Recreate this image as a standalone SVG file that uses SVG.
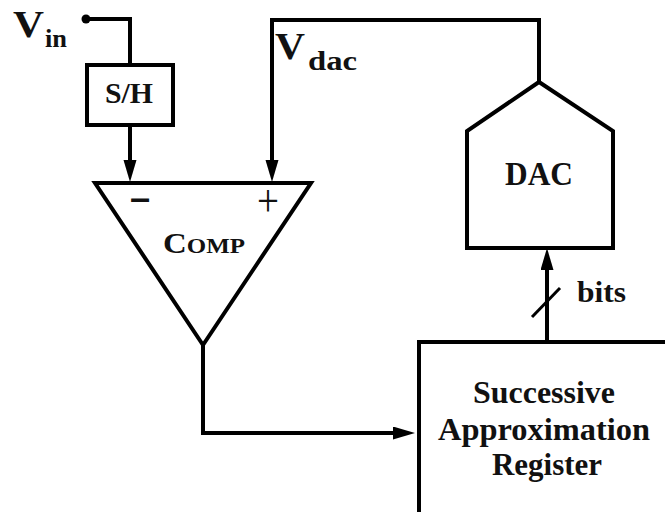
<svg xmlns="http://www.w3.org/2000/svg" width="665" height="512" viewBox="0 0 665 512">
<style>
.ln{fill:none;stroke:#000;stroke-width:4;stroke-linejoin:miter}
.sh{fill:#fff;stroke:#000;stroke-width:4}
.t{font-family:"Liberation Serif","Times New Roman",serif;font-weight:bold;fill:#111}
.s{font-family:"Liberation Serif","Times New Roman",serif;fill:#111}
</style>
<defs>
<marker id="ah" markerUnits="userSpaceOnUse" markerWidth="24" markerHeight="14" refX="12" refY="6.5" orient="auto">
<path d="M0,0 L22,6.5 L0,13 z" fill="#000"/>
</marker>
</defs>
<rect width="665" height="512" fill="#fff"/>
<g id="connectors">
<path class="ln" d="M86,19 H130 V65"/>
<path class="ln" d="M130,125 V172" marker-end="url(#ah)"/>
<path class="ln" d="M539,82 V20 H272 V172" marker-end="url(#ah)"/>
<path class="ln" d="M203,345 V433 H405" marker-end="url(#ah)"/>
<path class="ln" d="M547,342 V258" marker-end="url(#ah)"/>
<line class="ln" x1="532" y1="317" x2="560" y2="288" style="stroke-width:3"/>
<circle cx="86" cy="19" r="4.5" fill="#000"/>
</g>
<g id="vin">
<text class="t" x="13" y="37" font-size="37" textLength="31" lengthAdjust="spacingAndGlyphs">V</text>
<text class="t" x="45" y="47" font-size="26" textLength="22" lengthAdjust="spacingAndGlyphs">in</text>
</g>
<g id="vdac">
<text class="t" x="275" y="59" font-size="37" textLength="30" lengthAdjust="spacingAndGlyphs">V</text>
<text class="t" x="308" y="70" font-size="27" textLength="49" lengthAdjust="spacingAndGlyphs">dac</text>
</g>
<g id="sh">
<rect class="sh" x="87" y="65" width="86" height="60"/>
<text class="t" x="129" y="103" font-size="30" text-anchor="middle" textLength="48" lengthAdjust="spacingAndGlyphs">S/H</text>
</g>
<g id="comp">
<path class="sh" d="M95,183 H311 L203,345 Z"/>
<text class="s" x="140" y="216" font-size="48" font-weight="bold" text-anchor="middle" textLength="22" lengthAdjust="spacingAndGlyphs">−</text>
<text class="s" x="268" y="216" font-size="46" text-anchor="middle" textLength="22" lengthAdjust="spacingAndGlyphs">+</text>
<text class="t" x="163" y="253" textLength="82" lengthAdjust="spacingAndGlyphs"><tspan font-size="29">C</tspan><tspan font-size="22">OMP</tspan></text>
</g>
<g id="dac">
<path class="sh" d="M539,82 L613,131 V248 H467 V131 Z"/>
<text class="t" x="539" y="185" font-size="33" text-anchor="middle" textLength="68" lengthAdjust="spacingAndGlyphs">DAC</text>
</g>
<g id="bits">
<text class="t" x="577" y="302" font-size="30" textLength="49" lengthAdjust="spacingAndGlyphs">bits</text>
</g>
<g id="sar">
<rect class="sh" x="419" y="342" width="260" height="200"/>
<text class="t" x="544" y="403" font-size="31" text-anchor="middle" textLength="142" lengthAdjust="spacingAndGlyphs">Successive</text>
<text class="t" x="544" y="440" font-size="31" text-anchor="middle" textLength="212" lengthAdjust="spacingAndGlyphs">Approximation</text>
<text class="t" x="547" y="475" font-size="31" text-anchor="middle" textLength="110" lengthAdjust="spacingAndGlyphs">Register</text>
</g>
</svg>
